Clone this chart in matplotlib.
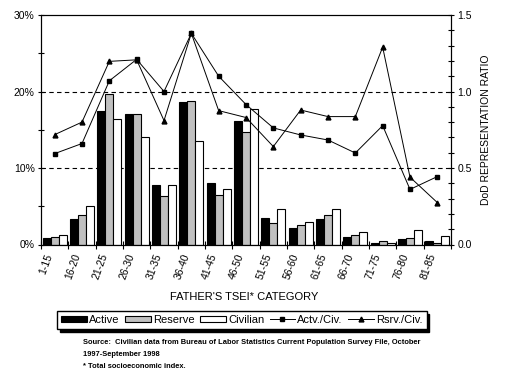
import matplotlib
matplotlib.use("Agg")
import matplotlib.pyplot as plt
from matplotlib.patches import Patch
from matplotlib.lines import Line2D
from matplotlib.ticker import FuncFormatter, MultipleLocator
import numpy as np

plt.rcParams['font.family'] = ['Liberation Sans', 'DejaVu Sans']

categories = ["1-15", "16-20", "21-25", "26-30", "31-35", "36-40", "41-45", "46-50",
              "51-55", "56-60", "61-65", "66-70", "71-75", "76-80", "81-85"]
active = [0.8, 3.3, 17.5, 17.1, 7.8, 18.6, 8.0, 16.2, 3.45, 2.1, 3.3, 0.95, 0.25, 0.7, 0.45]
reserve = [0.95, 3.9, 19.7, 17.1, 6.3, 18.7, 6.5, 14.7, 2.8, 2.6, 3.9, 1.3, 0.4, 0.85, 0.25]
civilian = [1.3, 5.0, 16.4, 14.1, 7.8, 13.5, 7.3, 17.7, 4.6, 2.9, 4.7, 1.6, 0.25, 1.9, 1.05]
actv_civ = [0.594, 0.66, 1.07, 1.21, 1.00, 1.38, 1.10, 0.915, 0.762, 0.716, 0.683, 0.598, 0.777, 0.36, 0.444]
rsrv_civ = [0.718, 0.80, 1.197, 1.207, 0.81, 1.38, 0.875, 0.83, 0.64, 0.879, 0.836, 0.836, 1.29, 0.44, 0.274]

fig = plt.figure(figsize=(5.10, 3.73), dpi=100)
ax = fig.add_axes([41 / 510, 1 - 244.5 / 373, 410 / 510, 229.5 / 373])
ax2 = ax.twinx()

x = np.arange(len(categories))
w = 0.29
ax.bar(x - w, active, w, color='black', edgecolor='black', linewidth=0.8, zorder=2)
ax.bar(x, reserve, w, color='#c0c0c0', edgecolor='black', linewidth=0.8, zorder=2)
ax.bar(x + w, civilian, w, color='white', edgecolor='black', linewidth=0.8, zorder=2)
for yv in (10, 20):
    ax.axhline(yv, color='black', linestyle=(0, (4, 3)), linewidth=0.8, zorder=0)

ax.set_ylim(0, 30)
ax.set_xlim(-0.5, len(categories) - 0.5)
ax.yaxis.set_major_locator(MultipleLocator(10))
ax.yaxis.set_minor_locator(MultipleLocator(5))
ax.yaxis.set_major_formatter(FuncFormatter(lambda v, p: f"{int(round(v))}%"))
ax.tick_params(axis='y', which='both', direction='inout', length=5, width=0.8, labelsize=7.5, pad=2)

ax.set_xticks(x)
ax.set_xticklabels(categories, rotation=70, ha='right', va='bottom', rotation_mode='anchor', fontsize=7.5)
ax.tick_params(axis='x', which='major', length=0, pad=8)
ax.set_xticks(np.arange(-0.5, len(categories)), minor=True)
ax.tick_params(axis='x', which='minor', direction='inout', length=6, width=0.8)
ax.set_xlabel("FATHER'S TSEI* CATEGORY", fontsize=8)
ax.xaxis.set_label_coords((244 - 41) / 410, (244.5 - 297) / 229.5)
ax.xaxis.label.set_va('center')

ax2.plot(x, actv_civ, color='black', linewidth=0.7, marker='s', markersize=3.2, zorder=3)
ax2.plot(x, rsrv_civ, color='black', linewidth=0.7, marker='^', markersize=3.5, zorder=3)
ax2.set_ylim(0, 1.5)
ax2.yaxis.set_major_locator(MultipleLocator(0.5))
ax2.yaxis.set_minor_locator(MultipleLocator(0.1))
ax2.yaxis.set_major_formatter(FuncFormatter(lambda v, p: f"{v:.1f}"))
ax2.tick_params(axis='y', which='both', direction='inout', length=5, width=0.8, labelsize=7.5, pad=2)
ax2.set_ylabel("DoD REPRESENTATION RATIO", fontsize=7.5, labelpad=7)

for a in (ax, ax2):
    for s in a.spines.values():
        s.set_linewidth(0.8)

handles = [Patch(facecolor='black', edgecolor='black', linewidth=0.8),
           Patch(facecolor='#c0c0c0', edgecolor='black', linewidth=0.8),
           Patch(facecolor='white', edgecolor='black', linewidth=0.8),
           Line2D([], [], color='black', linewidth=0.7, marker='s', markersize=3.2),
           Line2D([], [], color='black', linewidth=0.7, marker='^', markersize=3.5)]
labels = ["Active", "Reserve", "Civilian", "Actv./Civ.", "Rsrv./Civ."]
leg = fig.legend(handles, labels, ncol=5, loc='center', bbox_to_anchor=(242 / 510, 1 - 320 / 373),
                 fontsize=8, frameon=True, fancybox=False, edgecolor='black',
                 handlelength=2.3, handleheight=0.5, handletextpad=0.2, columnspacing=0.5,
                 borderpad=0.35, borderaxespad=0,
                 shadow={'color': 'black', 'alpha': 1})
leg.get_frame().set_linewidth(1.0)

fig.text(83 / 510, 1 - 343 / 373,
         "Source:  Civilian data from Bureau of Labor Statistics Current Population Survey File, October",
         fontsize=5.45, fontweight='bold', va='center', ha='left')
fig.text(83 / 510, 1 - 355 / 373, "1997-September 1998",
         fontsize=5.45, fontweight='bold', va='center', ha='left')
fig.text(83 / 510, 1 - 366 / 373, "* Total socioeconomic index.",
         fontsize=5.45, fontweight='bold', va='center', ha='left')

fig.savefig("out.png", dpi=100)
